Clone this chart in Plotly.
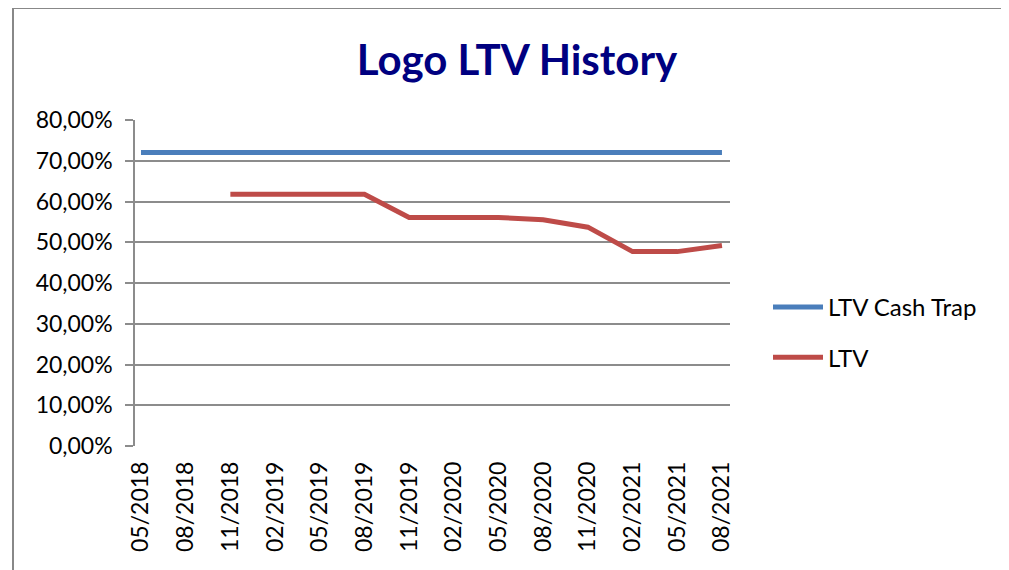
import plotly.graph_objects as go

categories = ["05/2018", "08/2018", "11/2018", "02/2019", "05/2019", "08/2019", "11/2019",
              "02/2020", "05/2020", "08/2020", "11/2020", "02/2021", "05/2021", "08/2021"]
cash_trap = [0.72] * 14
ltv = [None, None, 0.618, 0.618, 0.618, 0.618, 0.561, 0.561, 0.561, 0.555, 0.537, 0.477, 0.477, 0.492]
y_ticks = [0, 0.1, 0.2, 0.3, 0.4, 0.5, 0.6, 0.7, 0.8]

FONT = "Lato, Calibri, Carlito, sans-serif"
GRID = "#8c8c8c"

fig = go.Figure()
fig.add_trace(go.Scatter(x=categories, y=cash_trap, mode="lines", name="LTV Cash Trap",
                         line=dict(color="#4a7ebb", width=5), legendgroup="a"))
fig.add_trace(go.Scatter(x=categories, y=ltv, mode="lines", name="LTV",
                         line=dict(color="#be4b48", width=5), legendgroup="b"))

# the page body adds an 8px margin; work in screen pixels and shift by it
OFF = 8
L, R, T, B = 135 - OFF, 730 - OFF, 120 - OFF, 446 - OFF
W, H = 1009 - OFF, 570 - OFF
pw, ph = R - L, B - T

def px_x(p):
    return (p - OFF - L) / pw

def px_y(p):
    return (B - (p - OFF)) / ph

fig.update_layout(
    width=W, height=H,
    margin=dict(l=L, r=W - R, t=T, b=H - B, pad=0),
    paper_bgcolor="white", plot_bgcolor="white",
    separators=", ",
    font=dict(family=FONT, size=23, color="black"),
    title=dict(text="<b>Logo LTV History</b>", x=(517 - OFF) / W, xanchor="center",
               y=1 - (60 - OFF) / H, yanchor="middle",
               font=dict(family=FONT, size=42, color="#000080")),
    showlegend=True,
    legend=dict(x=px_x(768), y=px_y(285), xanchor="left", yanchor="top",
                font=dict(family=FONT, size=24, color="black"),
                traceorder="grouped", tracegroupgap=16, itemwidth=50,
                bgcolor="rgba(0,0,0,0)"),
    xaxis=dict(type="category", range=[-0.134, 13.18], tickangle=-90,
               showgrid=False, showline=False, zeroline=False, ticks="",
               ticklabelstandoff=10,
               tickfont=dict(family=FONT, size=23, color="black"), fixedrange=True),
    yaxis=dict(range=[0, 0.8], tickvals=y_ticks, tickformat=".2%",
               showgrid=True, gridcolor=GRID, gridwidth=1.5,
               showline=True, linecolor=GRID, linewidth=1.5,
               ticks="outside", ticklen=8, tickcolor=GRID, tickwidth=1.5,
               ticklabelstandoff=8,
               zeroline=False, tickfont=dict(family=FONT, size=23, color="black"), fixedrange=True),
    shapes=[
        dict(type="rect", xref="paper", yref="paper",
             x0=px_x(13), x1=px_x(1006), y0=px_y(620), y1=px_y(8),
             line=dict(color="#888888", width=2), fillcolor="rgba(0,0,0,0)", layer="below"),
    ],
)

fig.write_html("out.html")
